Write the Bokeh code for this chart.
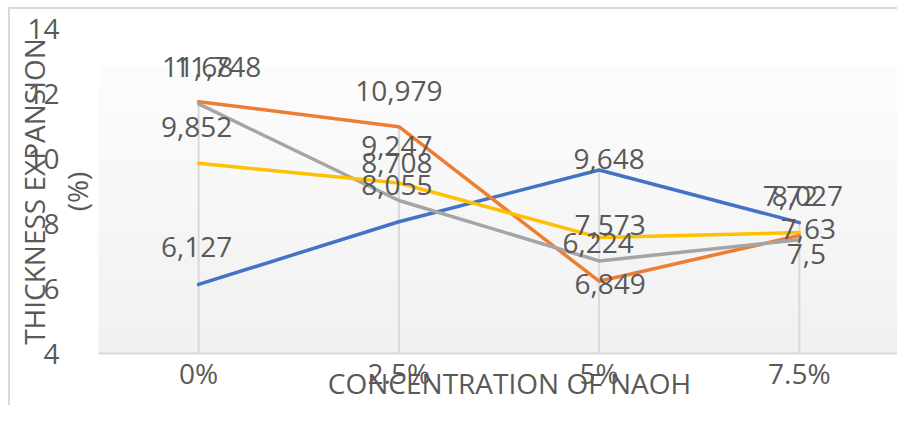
import math
import numpy as np
from bokeh.plotting import figure
from bokeh.models import ColumnDataSource, Range1d, FixedTicker, Label
from bokeh.embed import file_html
from bokeh.resources import INLINE
from bokeh.core.properties import value

# ---------------- data ----------------
categories = ["0%", "2.5%", "5%", "7.5%"]
series_blue = [6.127, 8.055, 9.648, 8.027]
series_orange = [11.748, 10.979, 6.224, 7.63]
series_gray = [11.68, 8.708, 6.849, 7.5]
series_yellow = [9.852, 9.247, 7.573, 7.72]
y_ticks = [4, 6, 8, 10, 12, 14]
x_title = "CONCENTRATION OF NAOH"
y_title_lines = ["THICKNESS EXPANSION", "(%)"]

# ---------------- styles / layout ----------------
COLORS = ["#4472C4", "#ED7D31", "#A5A5A5", "#FFC000"]
TEXT_COLOR = "#595959"
FONT = "Open Sans"
FONT_SIZE = "28px"
LABEL_DX = [[-2, -2, 10, 8], [19, 0, -1, 9], [-1, -2, 11, 7], [-2, -2, 11, -9]]
LABEL_DY = [[-37, -37, -11, -27], [-35, -36, -38, -7], [-37, -37, 23, 14], [-36, -37, -12, -37]]
PLOT_AREA_TOP = 12.86            # top of shaded plot-area panel (value units)
CANVAS_W, CANVAS_H = 889, 398
PAD_LEFT, PAD_RIGHT, PAD_TOP, PAD_BOTTOM = 88, 0, 19, 54   # px around the value area
Y_TITLE_X = [23, 66]             # px from canvas left (title line centres)
Y_TITLE_Y = 216                  # px up from canvas bottom
X_TITLE_X, X_TITLE_Y = 499, 25
X_TICK_STANDOFF = 0

all_series = [series_blue, series_orange, series_gray, series_yellow]
xs = list(range(len(categories)))
x_lo, x_hi = -0.5, len(categories) - 0.5
y_lo, y_hi = y_ticks[0], y_ticks[-1]
px_x = (CANVAS_W - PAD_LEFT - PAD_RIGHT) / (x_hi - x_lo)
px_y = (CANVAS_H - PAD_TOP - PAD_BOTTOM) / (y_hi - y_lo)

p = figure(width=CANVAS_W, height=CANVAS_H,
           x_range=Range1d(x_lo - PAD_LEFT / px_x, x_hi + PAD_RIGHT / px_x),
           y_range=Range1d(y_lo - PAD_BOTTOM / px_y, y_hi + PAD_TOP / px_y),
           output_backend="svg", toolbar_location=None,
           min_border_left=0, min_border_right=0, min_border_top=0, min_border_bottom=0)
p.styles = {"margin-left": "8px", "margin-top": "7px",
            "border-top": "2px solid #d9d9d9", "border-left": "2px solid #d9d9d9"}
p.outline_line_color = None
p.background_fill_color = "white"
p.border_fill_color = "white"
p.xgrid.visible = False
p.ygrid.visible = False

# plot-area gradient
n = 120
img = np.empty((n, 1), dtype=np.uint32)
view = img.view(dtype=np.uint8).reshape((n, 1, 4))
shade = np.linspace(241, 253, n).astype(np.uint8)
view[:, 0, 0] = shade
view[:, 0, 1] = shade
view[:, 0, 2] = shade
view[:, 0, 3] = 255
p.image_rgba(image=[img], x=x_lo, y=y_lo, dw=x_hi - x_lo, dh=PLOT_AREA_TOP - y_lo)

# drop lines
tops = [max(s[i] for s in all_series) for i in xs]
p.segment(x0=xs, y0=tops, x1=xs, y1=[y_lo] * len(xs), line_color="#d9d9d9", line_width=2)

# series
for vals, c in zip(all_series, COLORS):
    p.line(xs, vals, line_color=c, line_width=3.5, line_join="round", line_cap="round")

# data labels
lx, ly, lt, ldx, ldy = [], [], [], [], []
for si, vals in enumerate(all_series):
    for i, v in enumerate(vals):
        lx.append(i)
        ly.append(v)
        lt.append(str(v).replace(".", ","))
        ldx.append(LABEL_DX[si][i])
        ldy.append(LABEL_DY[si][i])
src = ColumnDataSource(dict(x=lx, y=ly, text=lt, dx=ldx, dy=ldy))
p.text(x="x", y="y", text="text", x_offset="dx", y_offset="dy", source=src,
       text_align="center", text_baseline="middle",
       text_font=value(FONT), text_font_size=value(FONT_SIZE), text_color=TEXT_COLOR)

# axes (drawn inside the canvas at the value-area edges)
ya = p.yaxis[0]
ya.fixed_location = x_lo
ya.ticker = FixedTicker(ticks=y_ticks)
ya.axis_line_color = None
ya.major_tick_line_color = None
ya.minor_tick_line_color = None
ya.major_label_standoff = 33
ya.major_label_text_font = FONT
ya.major_label_text_font_size = FONT_SIZE
ya.major_label_text_color = TEXT_COLOR

xa = p.xaxis[0]
xa.fixed_location = y_lo
xa.bounds = (x_lo, x_hi)
xa.ticker = FixedTicker(ticks=xs)
xa.major_label_overrides = {i: c for i, c in zip(xs, categories)}
xa.axis_line_color = "#d9d9d9"
xa.axis_line_width = 2
xa.major_tick_line_color = None
xa.minor_tick_line_color = None
xa.major_tick_out = 0
xa.major_label_standoff = X_TICK_STANDOFF
xa.major_label_text_font = FONT
xa.major_label_text_font_size = FONT_SIZE
xa.major_label_text_color = TEXT_COLOR

# axis titles
for txt, tx in zip(y_title_lines, Y_TITLE_X):
    p.add_layout(Label(x=tx, y=Y_TITLE_Y, x_units="screen", y_units="screen", text=txt,
                       angle=math.pi / 2, text_align="center", text_baseline="middle",
                       text_font=FONT, text_font_size=FONT_SIZE, text_color=TEXT_COLOR))
p.add_layout(Label(x=X_TITLE_X, y=X_TITLE_Y, x_units="screen", y_units="screen", text=x_title,
                   text_align="center", text_baseline="middle",
                   text_font=FONT, text_font_size=FONT_SIZE, text_color=TEXT_COLOR))

open("out.html", "w").write(file_html(p, INLINE))
